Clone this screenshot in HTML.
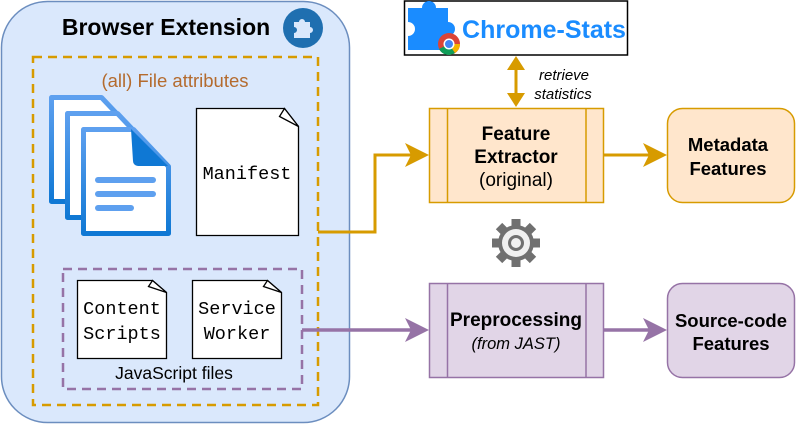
<!DOCTYPE html>
<html><head><meta charset="utf-8"><style>
html,body{margin:0;padding:0;background:#fff;}
svg{display:block;}
text{font-family:"Liberation Sans",sans-serif;}
.mono{font-family:"Liberation Mono",monospace;}
</style></head><body>
<svg width="797" height="425" viewBox="0 0 797 425" xmlns="http://www.w3.org/2000/svg">
<defs>
<linearGradient id="bg" x1="0" y1="0" x2="0" y2="1"><stop offset="0" stop-color="#5ea0ef"/><stop offset="1" stop-color="#0f78d4"/></linearGradient>
</defs>
<rect x="1.5" y="1.5" width="348" height="421" rx="46" fill="#dae8fc" stroke="#6c8ebf" stroke-width="1.5"/>
<text x="166" y="35" font-size="23" font-weight="bold" text-anchor="middle" fill="#000">Browser Extension</text>
<circle cx="303" cy="28" r="20" fill="#1f6fb0"/>
<path d="M294,22 h5 a3,3 0 1 1 6,0 h5 v5 a3,3 0 1 1 0,6 v5 h-16 v-5 a3,3 0 1 0 0,-6z" fill="#dae8fc"/>
<rect x="33" y="57" width="285" height="348" fill="none" stroke="#d79b00" stroke-width="2.5" stroke-dasharray="9,6"/>
<text x="175" y="87" font-size="18.5" text-anchor="middle" fill="#b46b2e">(all) File attributes</text>
<g stroke="url(#bg)" stroke-width="5" stroke-linejoin="round" fill="#fff">
<path d="M51.5,97.5 h50 l35,37 v67 h-85z"/>
<path d="M67.5,113.5 h50 l35,37 v67 h-85z"/>
<path d="M83.5,129.5 h50 l35,37 v67 h-85z"/>
</g>
<path d="M131,129 l37,37 h-30 a5,5 0 0 1 -5,-5z" fill="#0f78d4"/>
<g stroke="#5ea0ef" stroke-width="6" stroke-linecap="round">
<line x1="98" y1="180" x2="153" y2="180"/><line x1="98" y1="194" x2="153" y2="194"/><line x1="98" y1="208" x2="131" y2="208"/>
</g>
<path d="M196.5,108.5 h88 l14,18 v109 h-102z" fill="#fff" stroke="#000" stroke-width="1.3"/>
<path d="M284.5,108.5 l-5,8 l19,10z" fill="#fff" stroke="#000" stroke-width="1.3"/>
<text x="247" y="179" class="mono" font-size="18.5" text-anchor="middle">Manifest</text>
<rect x="63" y="269" width="239" height="120" fill="none" stroke="#9673a6" stroke-width="2.5" stroke-dasharray="9,6"/>
<path d="M77.5,280.5 h75 l14,12 v66 h-89z" fill="#fff" stroke="#000" stroke-width="1.3"/>
<path d="M152.5,280.5 l-4,6 l18,6z" fill="#fff" stroke="#000" stroke-width="1.3"/>
<path d="M192.5,280.5 h75 l14,12 v66 h-89z" fill="#fff" stroke="#000" stroke-width="1.3"/>
<path d="M267.5,280.5 l-4,6 l18,6z" fill="#fff" stroke="#000" stroke-width="1.3"/>
<text class="mono" font-size="18.5" text-anchor="middle"><tspan x="122" y="314">Content</tspan><tspan x="122" y="339">Scripts</tspan><tspan x="237" y="314">Service</tspan><tspan x="237" y="339">Worker</tspan></text>
<text x="174" y="379" font-size="17.5" text-anchor="middle">JavaScript files</text>
<!-- chrome stats -->
<rect x="404.5" y="1" width="223" height="54" fill="#fff" stroke="#000" stroke-width="1.5"/>
<path d="M408,8 h14 a7,7 0 1 1 14,0 h12 v14 a7,7 0 1 1 0,14 v14 h-40 v-14 a7,7 0 1 0 0,-14z" fill="#1a8cff"/>
<circle cx="449" cy="44" r="11" fill="#db4437"/><path d="M449,44 L439,49 A11,11 0 0 0 455,53z" fill="#0f9d58"/><path d="M449,44 L460,44 A11,11 0 0 1 455,53z" fill="#f4b400"/>
<circle cx="449" cy="44" r="5.5" fill="#fff"/><circle cx="449" cy="44" r="4" fill="#4285f4"/>
<text x="544" y="38" font-family="'DejaVu Serif',serif" font-size="25" font-weight="bold" fill="#1a8cff" text-anchor="middle">Chrome-Stats</text>
<line x1="516" y1="66" x2="516" y2="96" stroke="#d79b00" stroke-width="3"/>
<path d="M516,56 l-9,14 h18z M516,107 l-9,-14 h18z" fill="#d79b00"/>
<text font-size="15" font-style="italic" text-anchor="middle"><tspan x="564" y="80">retrieve</tspan><tspan x="563" y="99">statistics</tspan></text>
<!-- feature extractor -->
<rect x="429.5" y="108.5" width="174" height="94" fill="#ffe6cc" stroke="#d79b00" stroke-width="1.5"/>
<line x1="447.5" y1="108" x2="447.5" y2="203" stroke="#d79b00" stroke-width="1.5"/>
<line x1="586" y1="108" x2="586" y2="203" stroke="#d79b00" stroke-width="1.5"/>
<text font-size="19" text-anchor="middle"><tspan x="516" y="140" font-weight="bold">Feature</tspan><tspan x="516" y="163" font-weight="bold">Extractor</tspan><tspan x="516" y="186">(original)</tspan></text>
<rect x="667.5" y="108.5" width="127" height="94" rx="15" fill="#ffe6cc" stroke="#d79b00" stroke-width="1.5"/>
<text font-size="18.5" font-weight="bold" text-anchor="middle"><tspan x="728" y="151">Metadata</tspan><tspan x="728" y="175">Features</tspan></text>
<path d="M318,232 H375 V155 H412" fill="none" stroke="#d79b00" stroke-width="3"/>
<path d="M429,155 l-24,-12 l6,12 l-6,12z" fill="#d79b00"/>
<line x1="603" y1="155" x2="650" y2="155" stroke="#d79b00" stroke-width="3"/>
<path d="M667,155 l-24,-12 l6,12 l-6,12z" fill="#d79b00"/>
<!-- gear -->
<g transform="translate(516,243)">
<g fill="#707070">
<rect x="-4.5" y="-24" width="9" height="48"/><rect x="-4.5" y="-24" width="9" height="48" transform="rotate(45)"/><rect x="-4.5" y="-24" width="9" height="48" transform="rotate(90)"/><rect x="-4.5" y="-24" width="9" height="48" transform="rotate(135)"/>
<circle r="18"/></g>
<circle r="14" fill="#f0f0f0"/><circle r="8" fill="#707070"/><circle r="5" fill="#f0f0f0"/>
</g>
<!-- preprocessing -->
<rect x="429.5" y="283.5" width="174" height="94" fill="#e1d5e7" stroke="#9673a6" stroke-width="1.5"/>
<line x1="447.5" y1="283" x2="447.5" y2="378" stroke="#9673a6" stroke-width="1.5"/>
<line x1="586" y1="283" x2="586" y2="378" stroke="#9673a6" stroke-width="1.5"/>
<text x="516" y="326" font-size="19" font-weight="bold" text-anchor="middle">Preprocessing</text>
<text x="516" y="349" font-size="16.5" font-style="italic" text-anchor="middle">(from JAST)</text>
<rect x="667.5" y="283.5" width="127" height="94" rx="15" fill="#e1d5e7" stroke="#9673a6" stroke-width="1.5"/>
<text font-size="18.5" font-weight="bold" text-anchor="middle"><tspan x="731" y="327">Source-code</tspan><tspan x="731" y="350">Features</tspan></text>
<line x1="302" y1="330" x2="412" y2="330" stroke="#9673a6" stroke-width="3.5"/>
<path d="M429,330 l-24,-12 l6,12 l-6,12z" fill="#9673a6"/>
<line x1="603" y1="330" x2="650" y2="330" stroke="#9673a6" stroke-width="3.5"/>
<path d="M667,330 l-24,-12 l6,12 l-6,12z" fill="#9673a6"/>
</svg>
</body></html>
